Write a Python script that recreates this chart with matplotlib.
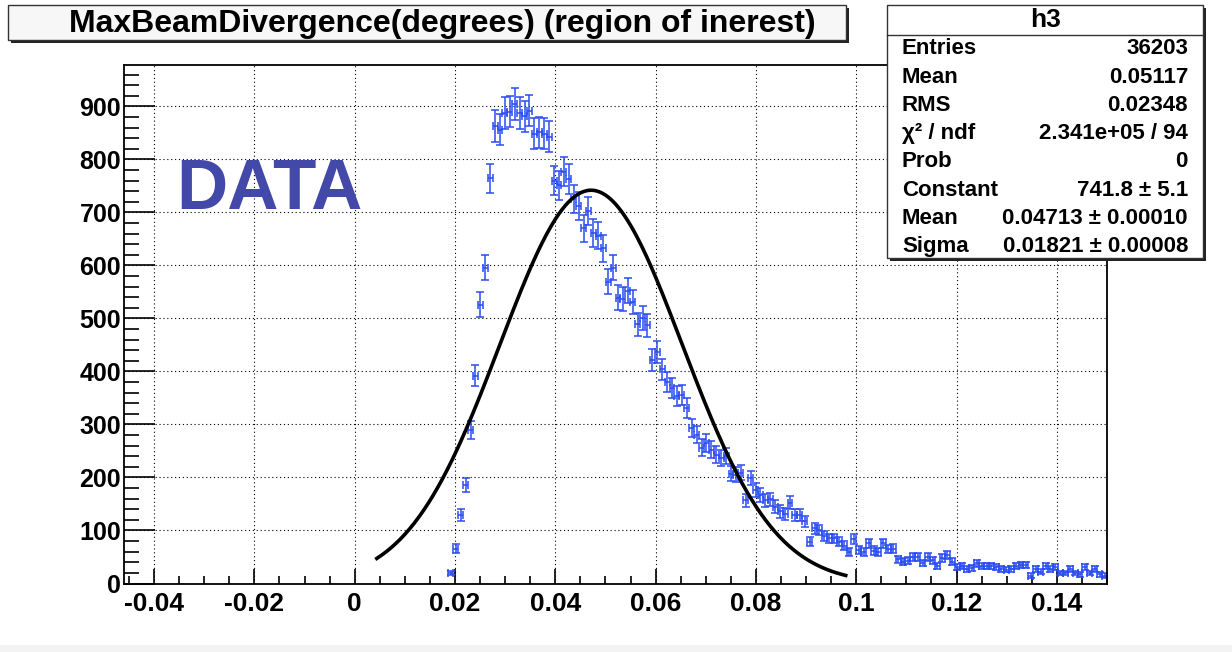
import numpy as np
import matplotlib
matplotlib.use("Agg")
import matplotlib.pyplot as plt
from matplotlib.patches import Rectangle
from matplotlib.lines import Line2D
from matplotlib.ticker import MultipleLocator, FuncFormatter

# histogram: 200 bins between -0.046 and 0.15, first filled bin is #66
n_bins = 200
x_lo, x_hi = -0.046, 0.15
first_bin = 66
counts = [20, 66, 129, 186, 290, 392, 526, 596,
          764, 863, 856, 887, 890, 904, 887, 881, 892, 848, 851, 848, 843,
          760, 751, 777, 763, 725, 712,
          670, 702, 661, 656, 632, 569, 596, 539, 537, 552, 531, 489, 501, 487,
          421, 436, 404, 380, 369, 354, 356, 331, 293, 281, 256, 265, 252, 243,
          237, 241, 207, 205, 209, 157, 199, 177, 167, 157, 159, 145, 136, 131,
          152, 129, 129, 117, 79, 104, 101, 90, 85, 85, 79, 71, 60, 84, 63, 60, 76,
          62, 60, 76, 65, 66, 46, 41, 43, 50, 50, 39, 50, 44, 33, 48, 54, 41,
          31, 33, 27, 29, 38, 33, 33, 33, 31, 27, 26, 27, 33, 35, 35, 15, 27,
          22, 33, 27, 31, 20, 20, 27, 20, 17, 31, 20, 27, 17, 15]

# gaussian fit result shown in the stats box
fit_const, fit_mean, fit_sigma = 741.8, 0.04713, 0.01821
fit_range = (0.0044, 0.0979)

title = "MaxBeamDivergence(degrees) (region of inerest)"
stats_rows = [("Entries", "36203"), ("Mean", "0.05117"), ("RMS", "0.02348"),
              ("χ² / ndf", "2.341e+05 / 94"), ("Prob", "0"),
              ("Constant", "741.8 ± 5.1"), ("Mean", "0.04713 ± 0.00010"),
              ("Sigma", "0.01821 ± 0.00008")]

plt.rcParams['font.family'] = ['Liberation Sans', 'DejaVu Sans']
plt.rcParams['font.weight'] = 'bold'
plt.rcParams['axes.unicode_minus'] = False

W, H = 1232, 652
fig = plt.figure(figsize=(W / 100, H / 100), dpi=100)


def px(x, y):
    return x / W, 1 - y / H


ax = fig.add_axes([124 / W, 68.5 / H, (1107 - 124) / W, (583.5 - 65) / H])

edges = np.linspace(x_lo, x_hi, n_bins + 1)
centers = 0.5 * (edges[:-1] + edges[1:])
bw = edges[1] - edges[0]
counts = np.array(counts, dtype=float)
xs = centers[first_bin:first_bin + len(counts)]

ax.errorbar(xs, counts, yerr=np.sqrt(counts), xerr=bw / 2, fmt='none',
            ecolor='#2a4cf2', elinewidth=1.1, capsize=3.0, capthick=1.1)

fx = np.linspace(fit_range[0], fit_range[1], 300)
fy = fit_const * np.exp(-0.5 * ((fx - fit_mean) / fit_sigma) ** 2)
ax.plot(fx, fy, color='black', linewidth=2.6)

ax.set_xlim(x_lo, x_hi)
ax.set_ylim(0, 978)
ax.xaxis.set_major_locator(MultipleLocator(0.02))
ax.xaxis.set_minor_locator(MultipleLocator(0.005))
ax.yaxis.set_major_locator(MultipleLocator(100))
ax.yaxis.set_minor_locator(MultipleLocator(20))
ax.xaxis.set_major_formatter(FuncFormatter(lambda v, p: '%g' % round(v, 4) if abs(v) > 1e-9 else '0'))
ax.tick_params(axis='x', which='major', direction='in', length=11, width=1.2,
               labelsize=19, pad=6)
ax.tick_params(axis='x', which='minor', direction='in', length=5.5, width=1.2)
ax.tick_params(axis='y', which='major', direction='in', length=22, width=1.2,
               labelsize=18, pad=2)
ax.tick_params(axis='y', which='minor', direction='in', length=11, width=1.2)
for lab in ax.get_xticklabels() + ax.get_yticklabels():
    lab.set_fontweight('bold')
ax.grid(True, which='major', color='black', linestyle=(0, (1, 2.5)), linewidth=0.8)
for s in ax.spines.values():
    s.set_linewidth(1.3)

ax.text(*px(176, 209), "DATA", transform=fig.transFigure, fontsize=51,
        fontweight='bold', color='#4349a8', va='baseline', ha='left')

# title box with shadow
def box(x0, y0, x1, y1, face):
    sx, sy = px(x0 + 3, y1 + 3)
    fig.add_artist(Rectangle((sx, sy), (x1 - x0) / W, (y1 - y0) / H,
                             transform=fig.transFigure, facecolor='#222222',
                             edgecolor='none', zorder=5))
    bx, by = px(x0, y1)
    fig.add_artist(Rectangle((bx, by), (x1 - x0) / W, (y1 - y0) / H,
                             transform=fig.transFigure, facecolor=face,
                             edgecolor='#333333', linewidth=1.0, zorder=6))

box(8, 5, 846, 40, '#f7f7f7')
fig.text(*px(442, 24), title, fontsize=23, fontweight='bold', ha='center',
         va='center', zorder=7)

box(887, 5, 1203, 258, 'white')
fig.add_artist(Line2D([887 / W, 1203 / W], [1 - 35 / H, 1 - 35 / H],
                      transform=fig.transFigure, color='#333333', linewidth=1.0,
                      zorder=7))
fig.text(*px(1046, 20), "h3", fontsize=19, fontweight='bold', ha='center',
         va='center', zorder=7)
for i, (k, v) in enumerate(stats_rows):
    y = 49 + i * 28.2
    fig.text(*px(902, y), k, fontsize=16, fontweight='bold', ha='left',
             va='center', zorder=7)
    fig.text(*px(1188, y), v, fontsize=16, fontweight='bold', ha='right',
             va='center', zorder=7)

fig.add_artist(Rectangle((0, 0), 1, 7 / H, transform=fig.transFigure,
                         facecolor='#f3f3f3', edgecolor='none'))

fig.savefig("out.png", dpi=100)
